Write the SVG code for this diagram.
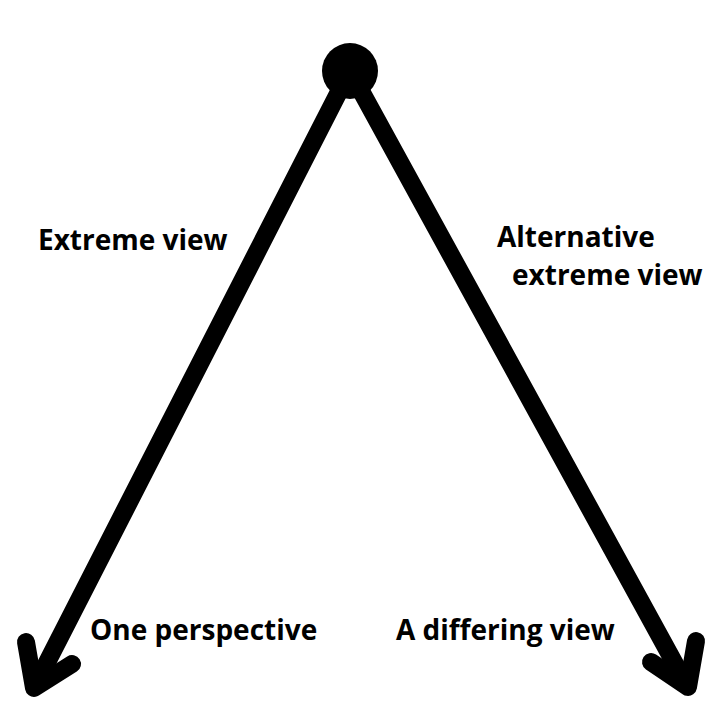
<svg xmlns="http://www.w3.org/2000/svg" width="720" height="720" viewBox="0 0 720 720">
<style>
.lbl{font-family:"Open Sans","Liberation Sans",sans-serif;font-weight:700;font-size:28px;fill:#000}
.ln{stroke:#000;stroke-width:18;fill:none;stroke-linecap:round;stroke-linejoin:round}
</style>
<rect width="720" height="720" fill="#fff"/>
<g id="connectors">
<path class="ln" d="M345,80 L36,684"/>
<path class="ln" d="M26,642 L34,688 L72,664"/>
<path class="ln" d="M355,80 L686,684"/>
<path class="ln" d="M696,641 L688,687 L651,662"/>
</g>
<g id="top"><circle cx="350" cy="71" r="28" fill="#000"/></g>
<g id="l1"><text class="lbl" x="38" y="250">Extreme view</text></g>
<g id="l2"><text class="lbl" x="497" y="247">Alternative</text><text class="lbl" x="512" y="285">extreme view</text></g>
<g id="l3"><text class="lbl" x="90" y="640">One perspective</text></g>
<g id="l4"><text class="lbl" x="396" y="640">A differing view</text></g>
</svg>
